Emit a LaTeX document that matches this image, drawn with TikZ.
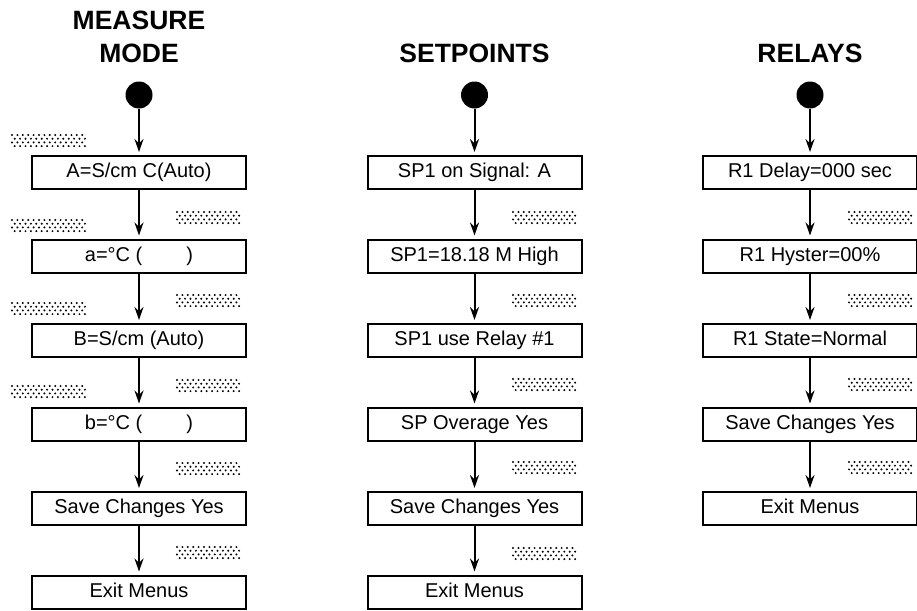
\documentclass[tikz,border=0pt]{standalone}
\usepackage{fontspec}
\setmainfont{Liberation Sans}
\usetikzlibrary{arrows.meta}
\newcommand{\mystip}[3]{%
  \foreach \r in {0,...,3}{%
    \pgfmathsetmacro\off{mod(\r,2)*2.7}%
    \foreach \c in {0,...,#3}{%
      \fill (#1+\off+\c*5.4, #2+2+\r*3.7) circle (1.1pt);
    }%
  }%
}
\begin{document}
\begin{tikzpicture}[x=1pt,y=-1pt,
  menubox/.style={draw, line width=2pt, minimum width=214pt, minimum height=33pt, inner sep=0pt, text height=14pt, text depth=4pt, font=\fontsize{20}{20}\selectfont},
  titletext/.style={font=\bfseries\fontsize{26.5}{33}\selectfont, align=center, inner sep=0pt},
  startdot/.style={circle, fill, inner sep=0pt, minimum size=27pt},
  flow/.style={line width=2pt, -{Stealth[length=13pt,width=9pt]}, shorten >=3pt}]
\useasboundingbox (0,0) rectangle (917,610);

% titles
\node[titletext, anchor=base] (t1) at (139,63) {MEASURE\\MODE};
\node[titletext, anchor=base] (t2) at (474.5,63) {SETPOINTS};
\node[titletext, anchor=base] (t3) at (810,63) {RELAYS};

% start dots
\node[startdot] (s1) at (139,95) {};
\node[startdot] (s2) at (474.5,95) {};
\node[startdot] (s3) at (810,95) {};

% column 1
\node[menubox] (a1) at (139,172.5) {A=S/cm C(Auto)};
\node[menubox] (a2) at (139,256) {a=°C (\hspace{2.2em})};
\node[menubox] (a3) at (139,340.5) {B=S/cm (Auto)};
\node[menubox] (a4) at (139,424) {b=°C (\hspace{2.2em})};
\node[menubox] (a5) at (139,508.5) {Save Changes Yes};
\node[menubox] (a6) at (139,592) {Exit Menus};

% column 2
\node[menubox] (b1) at (474.5,172.5) {SP1 on Signal: A};
\node[menubox] (b2) at (474.5,256) {SP1=18.18 M High};
\node[menubox] (b3) at (474.5,340.5) {SP1 use Relay \#1};
\node[menubox] (b4) at (474.5,424) {SP Overage Yes};
\node[menubox] (b5) at (474.5,508.5) {Save Changes Yes};
\node[menubox] (b6) at (474.5,592) {Exit Menus};

% column 3
\node[menubox] (c1) at (810,172.5) {R1 Delay=000 sec};
\node[menubox] (c2) at (810,256) {R1 Hyster=00\%};
\node[menubox] (c3) at (810,340.5) {R1 State=Normal};
\node[menubox] (c4) at (810,424) {Save Changes Yes};
\node[menubox] (c5) at (810,508.5) {Exit Menus};

% connectors
\draw[flow] (s1) -- (a1);
\draw[flow] (a1) -- (a2);
\draw[flow] (a2) -- (a3);
\draw[flow] (a3) -- (a4);
\draw[flow] (a4) -- (a5);
\draw[flow] (a5) -- (a6);
\draw[flow] (s2) -- (b1);
\draw[flow] (b1) -- (b2);
\draw[flow] (b2) -- (b3);
\draw[flow] (b3) -- (b4);
\draw[flow] (b4) -- (b5);
\draw[flow] (b5) -- (b6);
\draw[flow] (s3) -- (c1);
\draw[flow] (c1) -- (c2);
\draw[flow] (c2) -- (c3);
\draw[flow] (c3) -- (c4);
\draw[flow] (c4) -- (c5);

% stipple patches, left of column 1
\mystip{12}{133}{13}
\mystip{12}{218}{13}
\mystip{12}{301}{13}
\mystip{12}{384}{13}
% right of column 1
\mystip{177}{210}{11}
\mystip{177}{293}{11}
\mystip{177}{378}{11}
\mystip{177}{461}{11}
\mystip{177}{545}{11}
% right of column 2
\mystip{513}{210}{11}
\mystip{513}{293}{11}
\mystip{513}{377}{11}
\mystip{513}{460}{11}
\mystip{513}{546}{11}
% right of column 3
\mystip{849}{210}{11}
\mystip{849}{293}{11}
\mystip{849}{377}{11}
\mystip{849}{460}{11}
\end{tikzpicture}
\end{document}
